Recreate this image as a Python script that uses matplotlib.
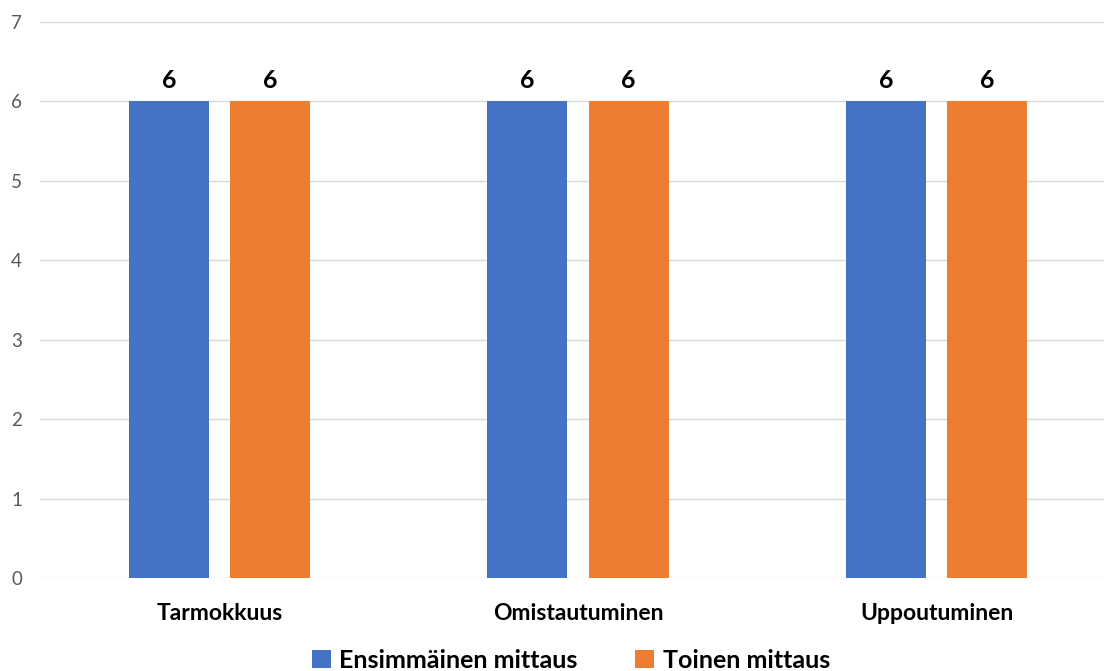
import matplotlib.pyplot as plt
import numpy as np

plt.rcParams['font.family'] = ['Lato', 'DejaVu Sans']

categories = ['Tarmokkuus', 'Omistautuminen', 'Uppoutuminen']
series_names = ['Ensimmäinen mittaus', 'Toinen mittaus']
first = [6, 6, 6]
second = [6, 6, 6]
colors = ['#4472C4', '#ED7D31']

fig = plt.figure(figsize=(11.04, 6.71), dpi=100)
ax = fig.add_axes([40 / 1104, 93 / 671, 1076 / 1104, 556 / 671])

x = np.arange(len(categories))
w = 0.223
off = 0.141
b1 = ax.bar(x - off, first, w, color=colors[0], label=series_names[0], zorder=3)
b2 = ax.bar(x + off, second, w, color=colors[1], label=series_names[1], zorder=3)
for bars in (b1, b2):
    ax.bar_label(bars, padding=7, fontsize=18, fontweight='bold', color='black')

ax.set_xlim(-0.5, 2.5)
ax.set_ylim(0, 7)
ax.set_yticks(range(8))
ax.grid(axis='y', color='#d9d9d9', linewidth=1, zorder=0)
for s in ax.spines.values():
    s.set_visible(False)
ax.tick_params(axis='y', length=0, labelsize=13.5, labelcolor='#595959', pad=13)
ax.tick_params(axis='x', length=0, pad=18)
ax.set_xticks(x)
ax.set_xticklabels(categories, fontsize=16.5, fontweight='bold', color='black')

leg = fig.legend(loc='lower center', bbox_to_anchor=(571 / 1104, -0.035), ncol=2, frameon=False,
                 prop={'size': 18, 'weight': 'bold'}, handlelength=0.75, handleheight=0.75,
                 handletextpad=0.35, columnspacing=2.3)

fig.savefig('out.png', dpi=100)
